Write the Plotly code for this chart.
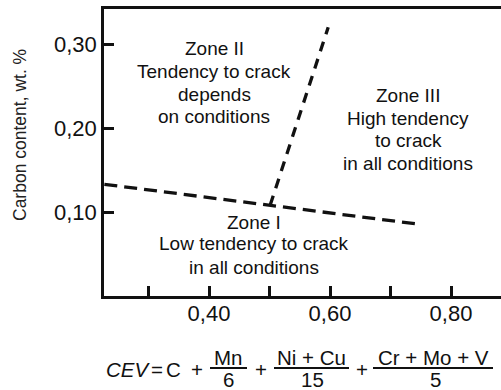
import plotly.graph_objects as go

# ---- data ----
x_tickvals = [0.30, 0.40, 0.50, 0.60, 0.70, 0.80]
x_ticktext = ["", "0,40", "", "0,60", "", "0,80"]
y_tickvals = [0.10, 0.20, 0.30]
y_ticktext = ["0,10", "0,20", "0,30"]

boundary_low_x = [0.227, 0.741]
boundary_low_y = [0.133, 0.086]
boundary_steep_x = [0.501, 0.597]
boundary_steep_y = [0.108, 0.320]

zone2_lines = ["Zone II", "Tendency to crack", "depends", "on conditions"]
zone3_lines = ["Zone III", "High tendency", "to crack", "in all conditions"]
zone1_lines = ["Zone I", "Low tendency to crack", "in all conditions"]
y_title = "Carbon content, wt. %"

# ---- geometry (pixels) ----
W, H = 501, 390
L, R, T, B = 104, 0, 9, 94
PW, PH = W - L - R, H - T - B


def px(xp):
    return (xp - L) / PW


def py(yp):
    return (H - B - yp) / PH


FONT = "Liberation Sans, Arial, Helvetica, sans-serif"
INK = "#111111"

fig = go.Figure()
fig.add_trace(go.Scatter(x=boundary_low_x, y=boundary_low_y, mode="lines",
                         line=dict(color="#111111", width=3.3, dash="13px,7px"),
                         showlegend=False, hoverinfo="skip"))
fig.add_trace(go.Scatter(x=boundary_steep_x, y=boundary_steep_y, mode="lines",
                         line=dict(color="#111111", width=3.3, dash="10px,8px"),
                         showlegend=False, hoverinfo="skip"))

annotations = []
zone_layout = [
    (zone2_lines, 214, [48, 71, 94, 116]),
    (zone3_lines, 408, [96, 118, 140, 163]),
    (zone1_lines, 254, [222, 244, 267]),
]
for lines, cx, ys in zone_layout:
    for txt, ay in zip(lines, ys):
        annotations.append(dict(text=txt, x=px(cx), y=py(ay), xref="paper", yref="paper",
                                showarrow=False, xanchor="center", yanchor="middle",
                                font=dict(family=FONT, size=19, color=INK)))

annotations.append(dict(text=y_title, x=px(20), y=py(135), xref="paper", yref="paper",
                        showarrow=False, textangle=-90, xanchor="center", yanchor="middle",
                        font=dict(family=FONT, size=17.5, color="#222222")))

# formula pieces
FS = 20.5
pieces = [
    ("<i>CEV</i>", 104, 369, "left"),
    ("=", 157, 369, "center"),
    ("C", 173, 369, "center"),
    ("+", 197, 369, "center"),
    ("Mn", 228, 357, "center"),
    ("6", 228, 379, "center"),
    ("+", 261, 369, "center"),
    ("Ni + Cu", 311, 357, "center"),
    ("15", 312, 379, "center"),
    ("+", 362, 369, "center"),
    ("Cr + Mo + V", 433, 357, "center"),
    ("5", 435, 379, "center"),
]
for txt, ax, ay, anc in pieces:
    annotations.append(dict(text=txt, x=px(ax), y=py(ay), xref="paper", yref="paper",
                            showarrow=False, xanchor=anc, yanchor="middle",
                            font=dict(family=FONT, size=FS, color=INK)))

shapes = []
for x0, x1 in [(210, 247), (274, 349), (373, 493)]:
    shapes.append(dict(type="line", xref="paper", yref="paper",
                       x0=px(x0), x1=px(x1), y0=py(368), y1=py(368),
                       line=dict(color=INK, width=2)))

fig.update_layout(
    width=W, height=H,
    margin=dict(l=L, r=R, t=T, b=B, pad=0),
    paper_bgcolor="white", plot_bgcolor="white",
    showlegend=False,
    annotations=annotations,
    shapes=shapes,
    xaxis=dict(range=[0.2264, 0.8826], tickvals=x_tickvals, ticktext=x_ticktext,
               ticks="inside", ticklen=10, tickwidth=2.5, tickcolor=INK,
               showline=True, linewidth=2.5, linecolor=INK, mirror=True,
               showgrid=False, zeroline=False, ticklabelstandoff=-4,
               tickfont=dict(family=FONT, size=22, color=INK)),
    yaxis=dict(range=[0.0, 0.3417], tickvals=y_tickvals, ticktext=y_ticktext,
               ticks="inside", ticklen=10, tickwidth=2.5, tickcolor=INK,
               showline=True, linewidth=2.5, linecolor=INK,
               showgrid=False, zeroline=False,
               tickfont=dict(family=FONT, size=22, color=INK)),
)

fig.write_html("out.html")
